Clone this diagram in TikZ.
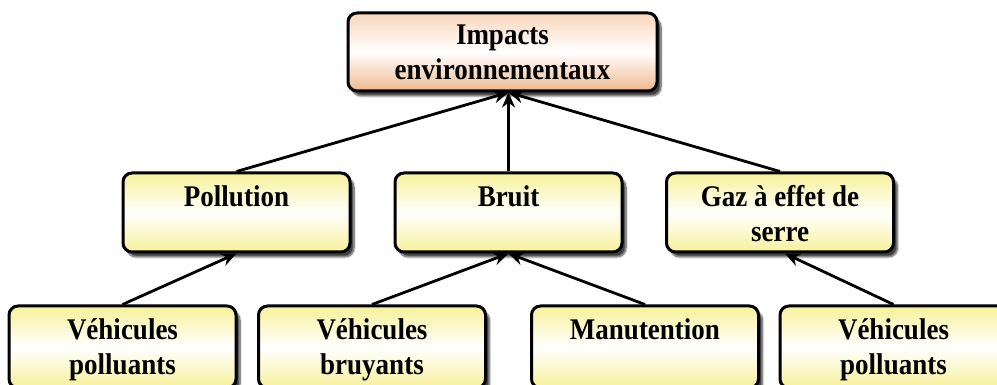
\documentclass[tikz,border=0pt]{standalone}
\usepackage{fontspec}
\setmainfont[FakeStretch=0.9]{Liberation Serif}
\usetikzlibrary{arrows.meta,shadows.blur}
\definecolor{yelA}{HTML}{F7F199}
\definecolor{orgT}{HTML}{F9D6BB}
\definecolor{orgB}{HTML}{EFB88E}
\tikzset{
 box/.style={rectangle, rounded corners=9pt, draw=black, line width=3pt,
   top color=yelA, bottom color=yelA, middle color=white,
   inner xsep=8.5pt, inner ysep=9pt,
   blur shadow={shadow xshift=4pt, shadow yshift=-5pt, shadow blur steps=8, shadow opacity=75}},
 topbox/.style={box, top color=orgT, bottom color=orgB, middle color=white, inner ysep=7pt},
 link/.style={line width=2.8pt, -{Stealth[length=15pt,width=13pt]}},
}
\newcommand{\btxt}[3]{\parbox[c][#1][t]{#2}{\centering\fontsize{30}{35}\selectfont\bfseries\strut #3}}
\begin{document}
\begin{tikzpicture}[x=1pt,y=1pt]
\useasboundingbox (0,0) rectangle (997,385);
\clip (0,0) rectangle (997,385);
\node[topbox] (top) at (502.5,333) {\btxt{64pt}{292pt}{Impacts\\environnementaux}};
\node[box] (pol) at (236.5,172.5) {\btxt{61pt}{210pt}{Pollution}};
\node[box] (bruit) at (508.5,172.5) {\btxt{61pt}{210pt}{Bruit}};
\node[box] (gaz) at (780,172.5) {\btxt{61pt}{210pt}{Gaz à effet de\\serre}};
\node[box] (vp1) at (122.5,38) {\btxt{64pt}{210pt}{Véhicules\\polluants}};
\node[box] (vb) at (372,38) {\btxt{64pt}{210pt}{Véhicules\\bruyants}};
\node[box] (man) at (645,38) {\btxt{64pt}{210pt}{Manutention}};
\node[box] (vp2) at (893.5,38) {\btxt{64pt}{210pt}{Véhicules\\polluants}};
\coordinate (conv) at (top.south -| bruit.north);
\draw[link] (pol.north) -- (conv);
\draw[link] (bruit.north) -- (conv);
\draw[link] (gaz.north) -- (conv);
\draw[link] (vp1.north) -- (pol.south);
\draw[link] (vb.north) -- (bruit.south);
\draw[link] (man.north) -- (bruit.south);
\draw[link] (vp2.north) -- ([xshift=5pt]gaz.south);
\end{tikzpicture}
\end{document}
